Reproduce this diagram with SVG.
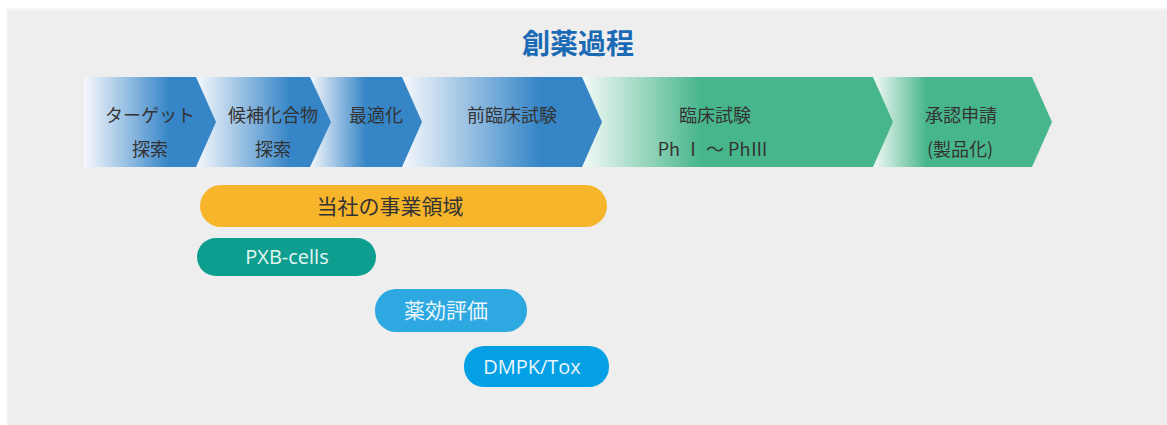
<svg xmlns="http://www.w3.org/2000/svg" width="1167" height="425" viewBox="0 0 1167 425">
  <style>
    .lbl { font-family: "Noto Sans CJK JP", "Open Sans", sans-serif; font-size: 18px; fill: #333333; text-anchor: middle; }
    .title { font-family: "Noto Sans CJK JP", sans-serif; font-size: 28px; font-weight: bold; fill: #1a6ab5; text-anchor: middle; }
    .bar { font-family: "Open Sans", "Noto Sans CJK JP", sans-serif; font-size: 20px; text-anchor: middle; }
    .barj { font-family: "Noto Sans CJK JP", sans-serif; font-size: 21px; text-anchor: middle; }
  </style>
  <defs>
    <linearGradient id="b1" x1="0" y1="0" x2="0.65" y2="0"><stop offset="0" stop-color="#f6f8fc"/><stop offset="1" stop-color="#3585c7"/></linearGradient>
    <linearGradient id="b2" x1="0" y1="0" x2="0.7" y2="0"><stop offset="0" stop-color="#f6f8fc"/><stop offset="1" stop-color="#3585c7"/></linearGradient>
    <linearGradient id="b3" x1="0" y1="0" x2="0.5" y2="0"><stop offset="0" stop-color="#f6f8fc"/><stop offset="1" stop-color="#3585c7"/></linearGradient>
    <linearGradient id="b4" x1="0" y1="0" x2="0.69" y2="0"><stop offset="0" stop-color="#f6f8fc"/><stop offset="1" stop-color="#3585c7"/></linearGradient>
    <linearGradient id="g5" x1="0" y1="0" x2="0.38" y2="0"><stop offset="0" stop-color="#f4faf7"/><stop offset="1" stop-color="#48b68c"/></linearGradient>
    <linearGradient id="g6" x1="0" y1="0" x2="0.3" y2="0"><stop offset="0" stop-color="#f4faf7"/><stop offset="1" stop-color="#48b68c"/></linearGradient>
  </defs>

  <rect x="0" y="0" width="1167" height="425" fill="#ffffff"/>
  <rect x="7" y="9" width="1162" height="420" fill="#eeeeee" stroke="#f5f5f5" stroke-width="2"/>

  <g id="title"><text class="title" x="578" y="54">創薬過程</text></g>

  <g id="connectors"/>

  <g id="stage6">
    <polygon points="873,77 1032,77 1052,122 1032,167 873,167" fill="url(#g6)"/>
    <text class="lbl" x="961" y="122">承認申請</text>
    <text class="lbl" x="960" y="156">(製品化)</text>
  </g>
  <g id="stage5">
    <polygon points="582,77 873,77 893,122 873,167 582,167" fill="url(#g5)"/>
    <text class="lbl" x="715" y="122">臨床試験</text>
    <text class="lbl" x="713" y="156">Ph Ⅰ ～ PhⅢ</text>
  </g>
  <g id="stage4">
    <polygon points="402,77 582,77 602,122 582,167 402,167" fill="url(#b4)"/>
    <text class="lbl" x="512" y="122">前臨床試験</text>
  </g>
  <g id="stage3">
    <polygon points="310,77 402,77 422,122 402,167 310,167" fill="url(#b3)"/>
    <text class="lbl" x="376" y="122">最適化</text>
  </g>
  <g id="stage2">
    <polygon points="196,77 310,77 331,122 310,167 196,167" fill="url(#b2)"/>
    <text class="lbl" x="273" y="122">候補化合物</text>
    <text class="lbl" x="273" y="156">探索</text>
  </g>
  <g id="stage1">
    <polygon points="84,77 196,77 216,122 196,167 84,167" fill="url(#b1)"/>
    <text class="lbl" x="150" y="122">ターゲット</text>
    <text class="lbl" x="150" y="156">探索</text>
  </g>

  <g id="business">
    <rect x="200" y="185" width="407" height="42" rx="21" fill="#f6b52b"/>
    <text class="barj" x="390" y="214" fill="#333333">当社の事業領域</text>
  </g>
  <g id="pxb">
    <rect x="197" y="238" width="179" height="38" rx="19" fill="#0d9e8f"/>
    <text class="bar" x="287" y="264" fill="#e6f6f3">PXB-cells</text>
  </g>
  <g id="efficacy">
    <rect x="375" y="289" width="152" height="43" rx="21" fill="#2ea8e0"/>
    <text class="barj" x="446" y="318" fill="#eaf6fc">薬効評価</text>
  </g>
  <g id="dmpk">
    <rect x="464" y="346" width="145" height="41" rx="20" fill="#03a0e6"/>
    <text class="bar" x="532" y="374" fill="#eaf6fc">DMPK/Tox</text>
  </g>
</svg>
